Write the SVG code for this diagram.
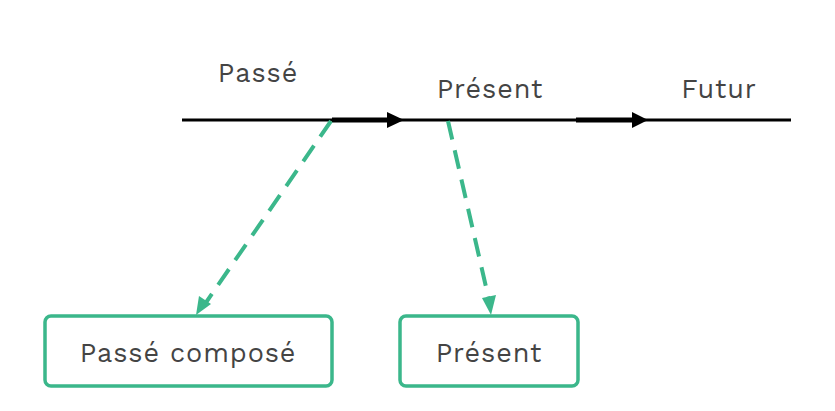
<svg xmlns="http://www.w3.org/2000/svg" width="835" height="411" viewBox="0 0 835 411">
<style>
.lbl{font-family:"Work Sans","Liberation Sans",Arial,sans-serif;font-size:27px;fill:#444;letter-spacing:0.9px}
.box{fill:#fff;stroke:#3bb78b;stroke-width:3.5}
.dash{stroke:#3bb78b;stroke-width:4;stroke-dasharray:19 11;fill:none}
</style>
<rect width="835" height="411" fill="#fff"/>
<g id="timeline">
<line x1="182" y1="120" x2="791" y2="120" stroke="#000" stroke-width="3.2"/>
<line x1="332" y1="120" x2="390" y2="120" stroke="#000" stroke-width="5"/>
<path d="M387,112L404,120L387,128z" fill="#000"/>
<line x1="576" y1="120" x2="634" y2="120" stroke="#000" stroke-width="5"/>
<path d="M632,112L648,120L632,128z" fill="#000"/>
</g>
<g id="labels">
<text class="lbl" x="258" y="82" text-anchor="middle">Passé</text>
<text class="lbl" x="490" y="98" text-anchor="middle">Présent</text>
<text class="lbl" x="719" y="98" text-anchor="middle">Futur</text>
</g>
<g id="connectors">
<line class="dash" x1="331" y1="121" x2="205" y2="304"/>
<path d="M196,315L199,296L211,304z" fill="#3bb78b"/>
<line class="dash" x1="448" y1="121" x2="489" y2="300"/>
<path d="M491,315L482,298L496,295z" fill="#3bb78b"/>
</g>
<g id="node-passe-compose">
<rect class="box" x="45" y="316" width="287" height="70" rx="6"/>
<text class="lbl" x="188" y="362" text-anchor="middle">Passé composé</text>
</g>
<g id="node-present">
<rect class="box" x="400" y="316" width="178" height="70" rx="6"/>
<text class="lbl" x="489" y="362" text-anchor="middle">Présent</text>
</g>
</svg>
